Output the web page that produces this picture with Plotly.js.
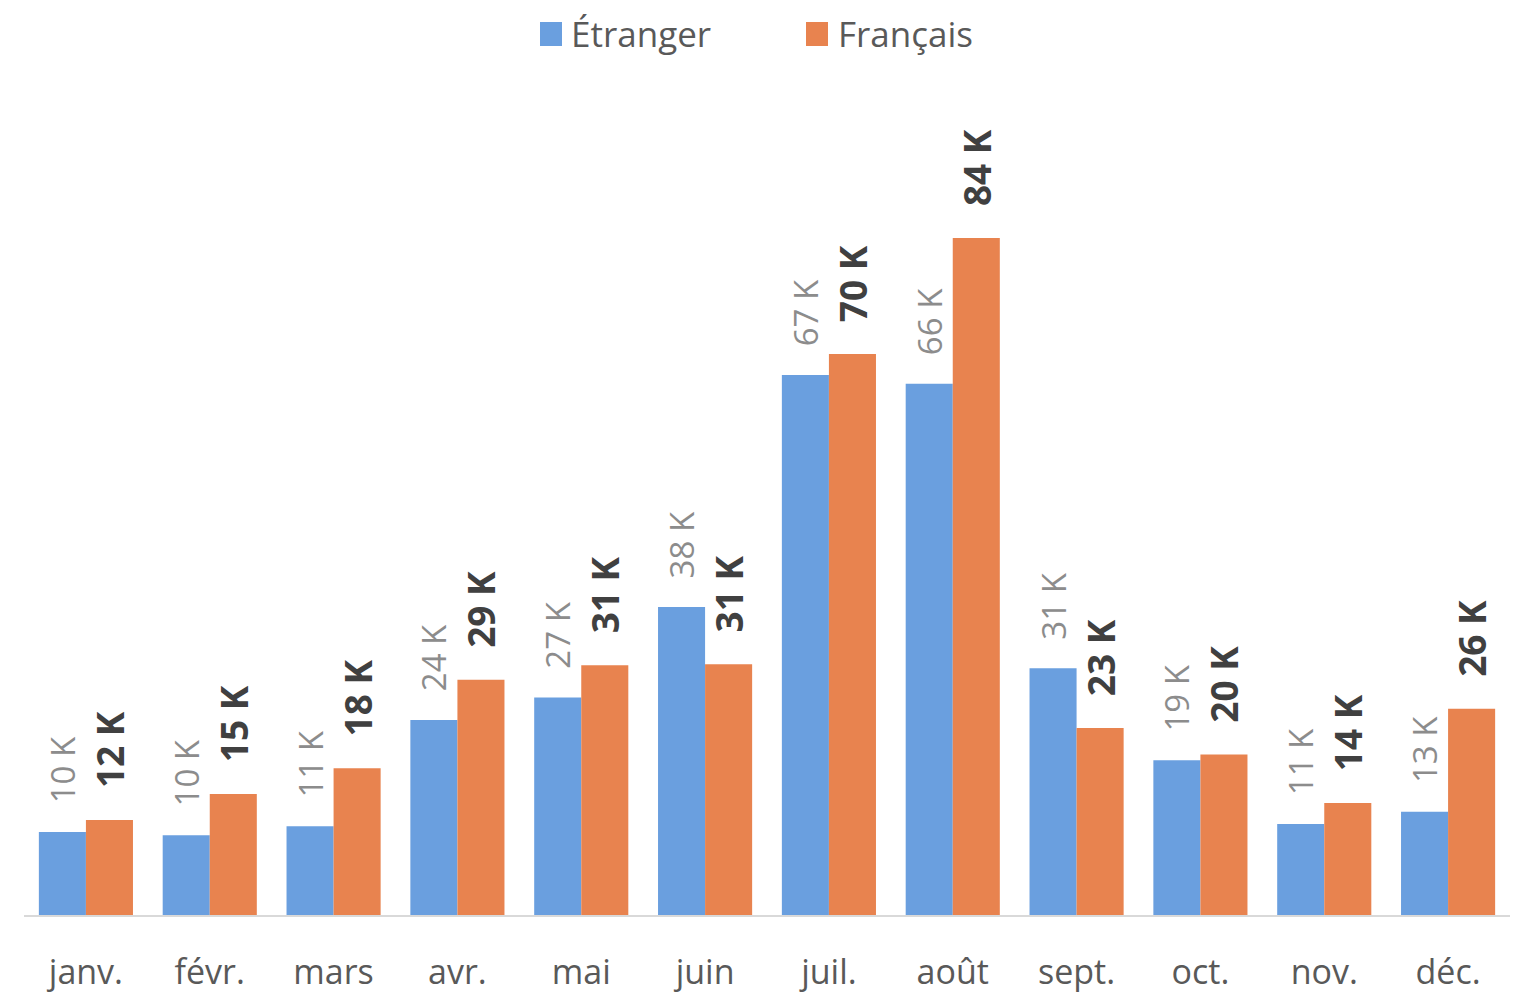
<!DOCTYPE html>
<html>
<head>
<meta charset="utf-8">
<script src="https://cdn.plot.ly/plotly-3.0.1.min.js"></script>
<style>html,body{margin:0;padding:0;background:#fff;}#chart{width:1526px;height:995px;}</style>
</head>
<body>
<div id="chart"></div>
<script>
const months = ['janv.', 'févr.', 'mars', 'avr.', 'mai', 'juin', 'juil.', 'août', 'sept.', 'oct.', 'nov.', 'déc.'];
const etranger = [10.3, 9.9, 11.0, 24.2, 27.0, 38.2, 67.0, 65.9, 30.6, 19.2, 11.3, 12.8];
const francais = [11.8, 15.0, 18.2, 29.2, 31.0, 31.1, 69.6, 84.0, 23.2, 19.9, 13.9, 25.6];
const seriesNames = ['Étranger', 'Français'];
const colors = ['#6a9fdf', '#e8834f'];

const W = 1526, H = 995;
const M = {l: 24, r: 16, t: 109, b: 80};
const pw = W - M.l - M.r, ph = H - M.t - M.b;
const px = x => (x - M.l) / pw;
const py = y => (H - M.b - y) / ph;

const pad = '\u00a0\u00a0\u00a0';
const fmt = v => pad + Math.round(v) + ' K';

const traces = [
  {
    type: 'bar', name: seriesNames[0], x: months, y: etranger,
    marker: {color: colors[0]},
    text: etranger.map(fmt), textposition: 'outside', textangle: -90,
    constraintext: 'none',
    textfont: {family: 'Open Sans, sans-serif', size: 33, color: '#8c8c8c'},
    cliponaxis: false, hoverinfo: 'x+y'
  },
  {
    type: 'bar', name: seriesNames[1], x: months, y: francais,
    marker: {color: colors[1]},
    text: francais.map(fmt), textposition: 'outside', textangle: -90,
    constraintext: 'none',
    textfont: {family: 'Open Sans, sans-serif', size: 37, color: '#404040', weight: 'bold'},
    cliponaxis: false, hoverinfo: 'x+y'
  }
];

const legendItems = [
  {sx: 540, tx: 569, name: seriesNames[0], color: colors[0]},
  {sx: 806, tx: 836, name: seriesNames[1], color: colors[1]}
];
const shapes = legendItems.map(it => ({
  type: 'rect', xref: 'paper', yref: 'paper',
  x0: px(it.sx), x1: px(it.sx + 22), y0: py(46), y1: py(22),
  fillcolor: it.color, line: {width: 0}
}));
const annotations = legendItems.map(it => ({
  xref: 'paper', yref: 'paper', x: px(it.tx), y: py(33),
  xanchor: 'left', yanchor: 'middle', showarrow: false,
  text: it.name, font: {family: 'Open Sans, sans-serif', size: 35, color: '#595959'}
}));

const layout = {
  width: W, height: H,
  margin: M,
  paper_bgcolor: '#ffffff', plot_bgcolor: '#ffffff',
  barmode: 'group', bargap: 0.24, bargroupgap: 0,
  showlegend: false,
  uniformtext: {mode: false},
  xaxis: {
    type: 'category', range: [-0.5, 11.5],
    showline: true, linecolor: '#d9d9d9', linewidth: 2,
    ticks: 'outside', ticklen: 26, tickcolor: 'rgba(0,0,0,0)',
    tickfont: {family: 'Open Sans, sans-serif', size: 34, color: '#595959'},
    showgrid: false, zeroline: false, fixedrange: true
  },
  yaxis: {
    range: [0, 100], visible: false, showgrid: false, zeroline: false, fixedrange: true
  },
  shapes: shapes,
  annotations: annotations
};

Plotly.newPlot('chart', traces, layout, {displayModeBar: false, staticPlot: true});
</script>
</body>
</html>
